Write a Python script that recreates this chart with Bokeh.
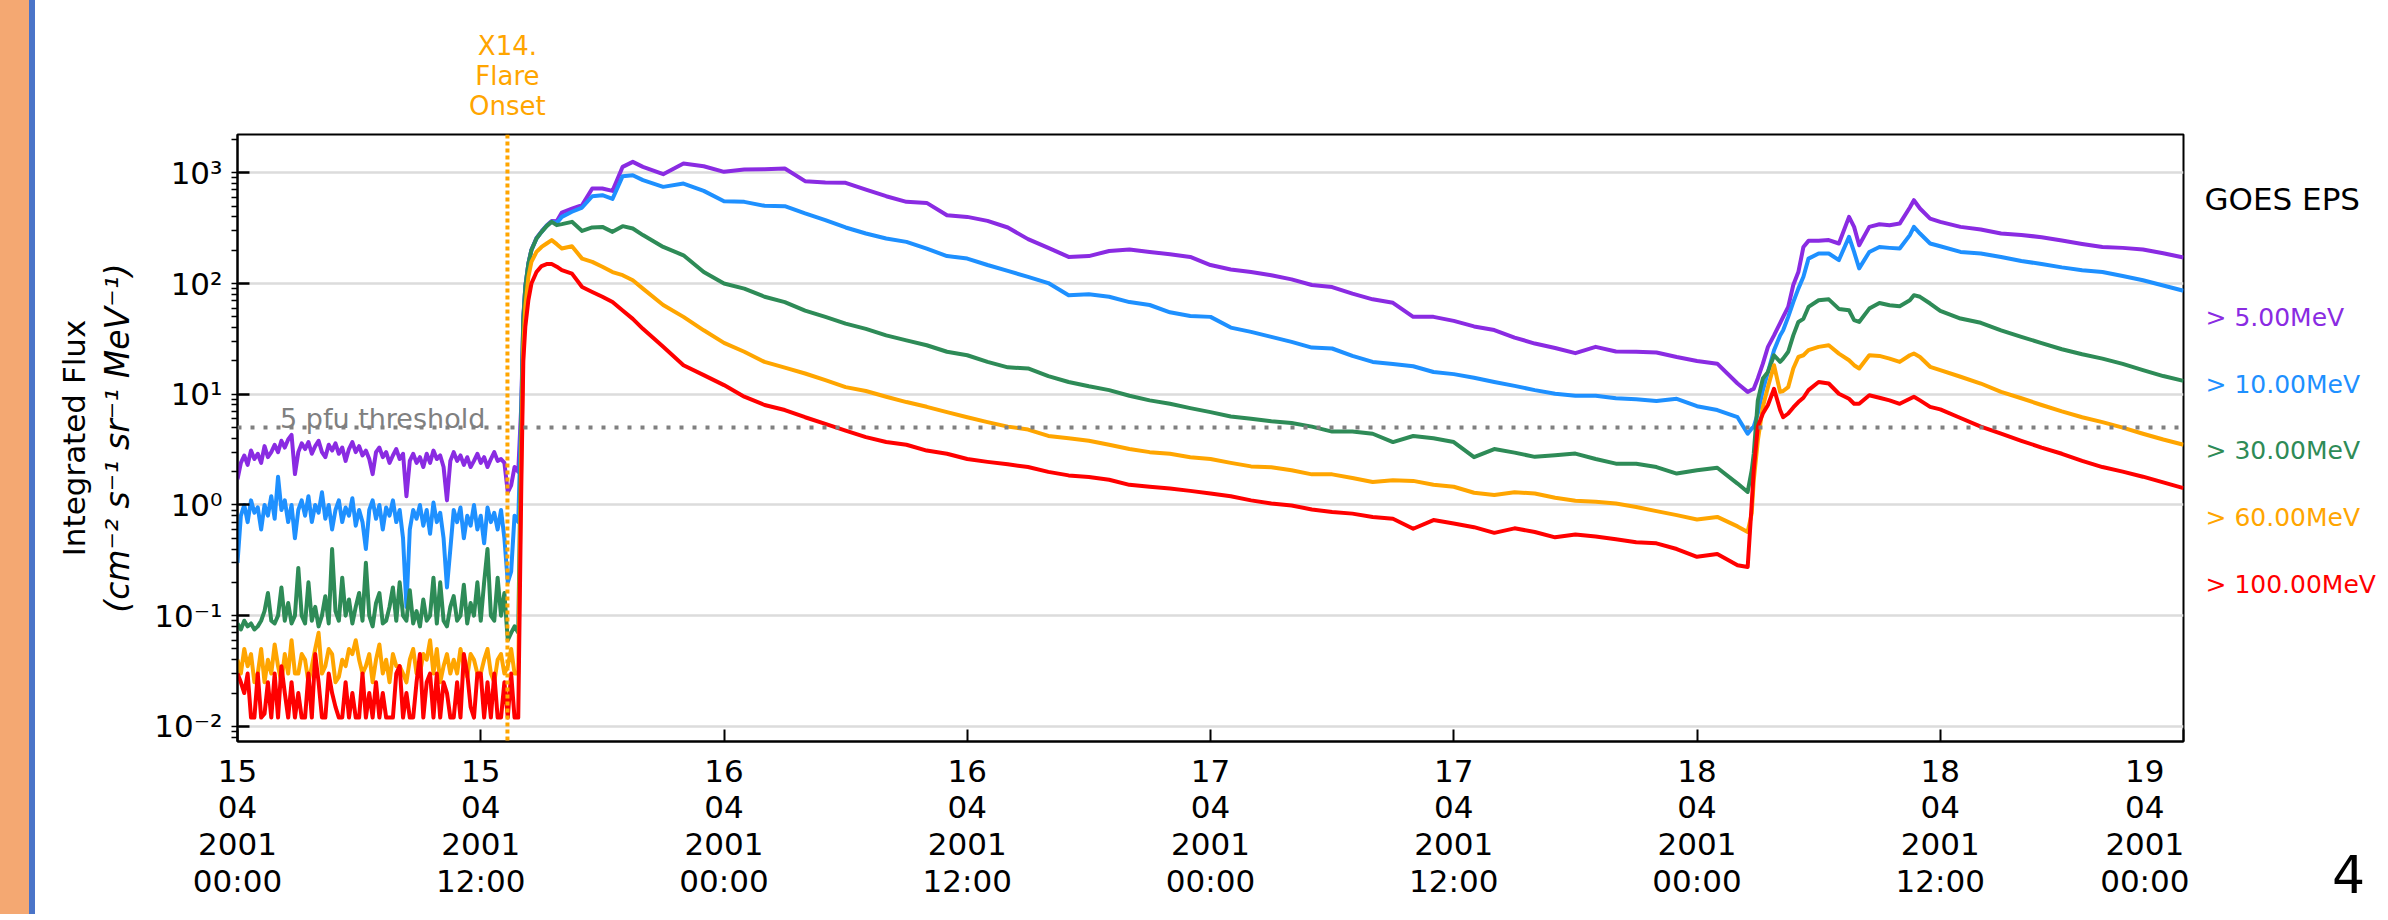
import numpy as np
import pandas as pd
from bokeh.plotting import figure
from bokeh.layouts import row
from bokeh.models import (Range1d, Span, Label, FixedTicker, DatetimeTickFormatter,
                          CustomJSTickFormatter, LogTicker, LogAxis, LinearAxis,
                          ColumnDataSource, Div)
from bokeh.core.properties import value
from bokeh.embed import file_html
from bokeh.resources import INLINE

FONT = "DejaVu Sans"

# ---------------- data ----------------
START = pd.Timestamp("2001-04-15 00:00")
END = pd.Timestamp("2001-04-19 00:00")
FLARE_ONSET = pd.Timestamp("2001-04-15 13:19")
FLARE_TEXT = "X14.\nFlare\nOnset"
THRESHOLD = 5.0
THRESHOLD_TEXT = "5 pfu threshold"
Y_TITLE = "Integrated Flux"
Y_UNITS = "(cm\u207b\u00b2 s\u207b\u00b9 sr\u207b\u00b9 MeV\u207b\u00b9)"
INSTRUMENT = "GOES EPS"
PAGE_NUMBER = "4"

# sample times, hours after 15 Apr 2001 00:00
HOURS_PRE = list(np.arange(0, 13.7, 1 / 6))          # 10-minute samples before onset
HOURS_EVENT = [13.85, 14.0, 14.1, 14.2, 14.35, 14.5, 14.75, 15.0, 15.25, 15.5,
               15.75, 16.0, 16.5, 17.0, 17.5, 18.0, 18.5, 19.0, 19.5]
HOURS_DECAY = list(range(20, 75))
HOURS_SECOND = [74.5, 74.7, 74.8, 75.0, 75.25, 75.5, 75.8, 76.1, 76.25, 76.5,
                76.75, 77.0, 77.25, 77.5, 78.0, 78.5, 79.0, 79.5, 79.75, 80.0,
                80.5, 81.0, 81.5, 82.0, 82.5, 82.7, 83.0, 83.5, 84.0]
HOURS_TAIL = list(range(85, 97))
HOURS = HOURS_PRE + HOURS_EVENT + HOURS_DECAY + HOURS_SECOND + HOURS_TAIL

P5 = ([1.7, 2.4, 2.8, 2.3, 3.1, 2.6,
       2.9, 2.4, 3.4, 2.7, 3.0, 3.5,
       3.0, 3.8, 3.3, 3.9, 4.3, 1.9,
       3.0, 3.6, 3.2, 3.7, 2.9, 3.4,
       3.8, 3.0, 2.7, 3.5, 3.1, 3.6,
       2.9, 3.3, 2.5, 3.2, 3.7, 3.0,
       3.4, 2.8, 3.1, 2.6, 1.9, 3.0,
       3.3, 2.7, 3.0, 2.4, 2.8, 3.2,
       2.6, 2.9, 1.2, 2.5, 2.9, 2.4,
       2.7, 2.2, 2.9, 2.4, 3.1, 2.6,
       2.8, 2.2, 1.1, 2.5, 3.0, 2.5,
       2.8, 2.3, 2.7, 2.2, 2.5, 2.9,
       2.4, 2.7, 2.2, 2.6, 3.0, 2.5,
       2.6, 2.4, 1.3, 1.5, 2.2]
      + [2.0, 8, 50, 95, 152, 202, 258, 296, 335, 368,
         365, 438, 476, 511, 721, 721, 687, 1133, 1257]
      + [1133, 973, 1214, 1148, 1021, 1072, 1080, 1094, 841, 818,
         813, 706, 615, 547, 535, 414, 400, 368, 321, 252,
         210, 174, 177, 197, 203, 193, 184, 174, 147, 134,
         127, 119, 109, 97, 93, 81, 72, 67, 50, 50,
         46, 41, 38, 32.5, 28.7, 26.2, 23.5, 26.8, 24.3, 24.2,
         23.8, 21.7, 20, 18.9, 12.5]
      + [10.5, 11, 11.2, 13.9, 18.9, 26.8, 34, 44, 50, 61.5,
         97, 127, 214, 243, 243, 247, 230, 400, 325, 222,
         325, 343, 336, 348, 486, 566, 476, 386, 361]
      + [325, 308, 283, 275, 262, 245, 228, 214, 210, 203, 188, 172])

P10 = ([0.3, 0.8, 1.0, 0.7, 1.1, 0.85,
        0.95, 0.6, 1.0, 0.8, 1.2, 0.75,
        1.8, 0.9, 1.1, 0.7, 1.0, 0.5,
        0.9, 1.1, 0.8, 1.2, 0.7, 1.0,
        0.85, 1.3, 0.75, 1.0, 0.6, 0.9,
        1.1, 0.7, 0.95, 0.8, 1.15, 0.65,
        0.9, 0.7, 0.4, 0.9, 1.1, 0.75,
        1.0, 0.6, 0.95, 0.8, 1.1, 0.7,
        0.9, 0.5, 0.12, 0.6, 0.9, 0.75,
        1.0, 0.65, 0.9, 0.55, 1.05, 0.7,
        0.85, 0.5, 0.18, 0.4, 0.9, 0.7,
        0.95, 0.5, 0.8, 0.65, 1.0, 0.6,
        0.8, 0.45, 0.95, 0.7, 0.85, 0.6,
        0.9, 0.5, 0.2, 0.25, 0.8]
       + [0.7, 7, 48, 94, 151, 200, 255, 293, 332, 362,
          352, 400, 445, 486, 615, 628, 582, 933, 952]
       + [859, 747, 801, 687, 554, 547, 504, 500, 430, 374,
          321, 283, 255, 238, 207, 177, 168, 147, 130, 115,
          101, 78.5, 80, 76, 68, 64, 55, 51, 50, 40,
          36.6, 33, 29.7, 26.4, 25.9, 22.2, 19.6, 18.8, 17.9, 15.9,
          15.2, 14.1, 12.9, 11.9, 10.9, 10.1, 9.7, 9.7, 9.2, 9.0,
          8.7, 9.1, 7.8, 7.2, 6.2]
       + [4.4, 4.9, 5.1, 6.7, 10.9, 15.9, 25, 34, 37.8, 50,
          68, 90, 115, 168, 187, 187, 163, 264, 193, 137,
          193, 214, 210, 207, 274, 325, 283, 230, 217]
       + [193, 187, 174, 160, 150, 140, 132, 127, 117, 107, 96, 86])

P30 = ([0.085, 0.075, 0.09, 0.08, 0.085, 0.075,
        0.08, 0.09, 0.11, 0.16, 0.09, 0.085,
        0.1, 0.18, 0.09, 0.13, 0.085, 0.1,
        0.27, 0.1, 0.085, 0.2, 0.09, 0.12,
        0.08, 0.1, 0.15, 0.085, 0.4, 0.11,
        0.09, 0.22, 0.1, 0.14, 0.085, 0.12,
        0.16, 0.09, 0.3, 0.1, 0.08, 0.13,
        0.16, 0.085, 0.09, 0.12, 0.18, 0.09,
        0.2, 0.1, 0.09, 0.17, 0.085, 0.11,
        0.08, 0.14, 0.09, 0.1, 0.22, 0.085,
        0.2, 0.09, 0.08, 0.12, 0.15, 0.09,
        0.1, 0.19, 0.085, 0.13, 0.1, 0.2,
        0.09, 0.2, 0.4, 0.1, 0.09, 0.22,
        0.1, 0.16, 0.06, 0.07, 0.08]
       + [0.07, 5.8, 47, 93, 151, 201, 255, 293, 330, 361,
          337, 344, 361, 299, 321, 325, 293, 330, 314]
       + [274, 214, 180, 127, 100, 90, 76, 68, 57, 50,
          43.5, 39, 34, 30.7, 27.7, 24.2, 22.5, 19.6, 17.5, 17.1,
          14.6, 12.9, 11.8, 10.9, 9.7, 8.8, 8.2, 7.5, 6.9, 6.3,
          6.0, 5.7, 5.5, 5.1, 4.6, 4.6, 4.4, 3.7, 4.2, 4.0,
          3.7, 2.7, 3.2, 2.97, 2.72, 2.81, 2.91, 2.6, 2.36, 2.36,
          2.2, 1.92, 2.06, 2.17, 1.56]
       + [1.31, 2.06, 2.9, 8.8, 13.9, 15.9, 22.5, 19.6, 21, 24.2,
          34, 45, 48, 61.5, 70.6, 72, 59, 57.4, 46.7, 45,
          59.4, 66.8, 63.7, 62.4, 70.6, 78.5, 75.9, 66, 56.6]
       + [48.3, 44.2, 37.8, 33, 29, 25.5, 23, 21, 18.8, 16.5, 14.6, 13.2])

P60 = ([0.04, 0.03, 0.05, 0.035, 0.045, 0.025,
        0.03, 0.05, 0.025, 0.04, 0.03, 0.055,
        0.035, 0.025, 0.045, 0.03, 0.06, 0.03,
        0.03, 0.045, 0.04, 0.025, 0.035, 0.05,
        0.07, 0.03, 0.035, 0.05, 0.045, 0.025,
        0.028, 0.04, 0.035, 0.05, 0.045, 0.06,
        0.04, 0.03, 0.035, 0.045, 0.025, 0.04,
        0.055, 0.03, 0.04, 0.025, 0.045, 0.035,
        0.035, 0.03, 0.025, 0.04, 0.05, 0.03,
        0.03, 0.045, 0.04, 0.06, 0.03, 0.05,
        0.025, 0.035, 0.045, 0.03, 0.04, 0.03,
        0.05, 0.035, 0.028, 0.045, 0.04, 0.03,
        0.03, 0.04, 0.05, 0.03, 0.025, 0.04,
        0.045, 0.03, 0.035, 0.05, 0.03]
       + [0.03, 2.9, 27, 62, 115, 157, 193, 214, 230, 247,
          227, 207, 217, 168, 157, 142, 127, 119, 107]
       + [90, 64, 50, 37.8, 29.1, 24.2, 19.6, 17.4, 15.4, 13.4,
          11.6, 10.7, 9.5, 8.5, 7.7, 6.9, 6.2, 5.6, 5.1, 4.8,
          4.2, 4.0, 3.8, 3.5, 3.2, 3.0, 2.9, 2.7, 2.6, 2.4,
          2.23, 2.19, 2.06, 1.89, 1.89, 1.75, 1.61, 1.67, 1.65, 1.52,
          1.46, 1.29, 1.23, 1.3, 1.27, 1.16, 1.09, 1.07, 1.03, 0.96,
          0.88, 0.81, 0.74, 0.78, 0.64]
       + [0.57, 0.84, 1.67, 3.8, 7.7, 11.6, 18.3, 10.5, 10.7, 11.6,
          17.1, 21.7, 22.5, 25, 26.8, 27.7, 23.3, 20.3, 18.3, 17.1,
          22.5, 22.2, 21, 19.6, 22.5, 23.3, 21.7, 17.7, 16.5]
       + [14.4, 12.5, 10.5, 9.2, 8.0, 7.0, 6.2, 5.6, 5.0, 4.4, 3.9, 3.5])

P100 = ([0.03, 0.025, 0.02, 0.03, 0.012, 0.012,
         0.03, 0.012, 0.013, 0.025, 0.012, 0.03,
         0.012, 0.035, 0.02, 0.012, 0.025, 0.012,
         0.02, 0.012, 0.012, 0.03, 0.012, 0.045,
         0.025, 0.012, 0.012, 0.03, 0.02, 0.015,
         0.012, 0.012, 0.025, 0.012, 0.02, 0.012,
         0.012, 0.03, 0.012, 0.02, 0.012, 0.025,
         0.012, 0.02, 0.012, 0.012, 0.012, 0.03,
         0.035, 0.012, 0.02, 0.012, 0.012, 0.025,
         0.045, 0.012, 0.025, 0.03, 0.012, 0.03,
         0.012, 0.025, 0.02, 0.012, 0.012, 0.025,
         0.012, 0.045, 0.03, 0.015, 0.012, 0.03,
         0.03, 0.012, 0.025, 0.012, 0.03, 0.012,
         0.012, 0.025, 0.012, 0.03, 0.012]
        + [0.012, 1.46, 20, 41, 71, 100, 127, 144, 150, 150,
           142, 132, 123, 93, 84, 76, 68, 57, 48]
        + [39, 26.8, 18.3, 14.9, 12.1, 9.5, 8.0, 7.2, 6.2, 5.4,
           4.7, 4.1, 3.7, 3.5, 3.1, 2.9, 2.6, 2.45, 2.33, 2.2,
           1.99, 1.85, 1.79, 1.69, 1.52, 1.46, 1.41, 1.34, 1.27, 1.2,
           1.10, 1.03, 0.99, 0.91, 0.865, 0.835, 0.78, 0.75, 0.61, 0.73,
           0.68, 0.63, 0.56, 0.615, 0.57, 0.51, 0.54, 0.52, 0.49, 0.46,
           0.45, 0.40, 0.34, 0.36, 0.285]
        + [0.275, 1.03, 2.06, 5.1, 6.7, 8.0, 11.2, 7.2, 6.2, 6.7,
           7.6, 8.5, 9.3, 10.9, 12.9, 12.5, 10.1, 9.1, 8.2, 8.2,
           9.8, 9.3, 8.8, 8.2, 9.1, 9.5, 8.8, 7.7, 7.3]
        + [6.1, 5.1, 4.4, 3.8, 3.3, 2.9, 2.5, 2.2, 2.0, 1.8, 1.6, 1.42])

SERIES_NAMES = ["> 5.00MeV", "> 10.00MeV", "> 30.00MeV", "> 60.00MeV", "> 100.00MeV"]
SERIES_COLORS = ["#8A2BE2", "#1E90FF", "#2E8B57", "#FFA500", "#FF0000"]
SERIES_VALUES = [P5, P10, P30, P60, P100]

for v in SERIES_VALUES:
    assert len(v) == len(HOURS), (len(v), len(HOURS))

TIMES = (START + pd.to_timedelta(HOURS, unit="h")).to_numpy()
TICK_TIMES = pd.date_range(START, END, freq="12h")
FLARE_MS = FLARE_ONSET.value / 1e6

# ---------------- layout geometry (page pixels) ----------------
H = 914
FRAME_TOP, FRAME_BOTTOM = 134, 741

# ---------------- main figure ----------------
p = figure(width=2154, height=H, x_axis_type="datetime", y_axis_type="log",
           x_range=Range1d(START.to_pydatetime(), END.to_pydatetime()),
           y_range=Range1d(0.0073, 2220),
           output_backend="svg", toolbar_location=None,
           min_border_left=202, min_border_right=6,
           min_border_top=FRAME_TOP, min_border_bottom=H - FRAME_BOTTOM)
p.background_fill_color = "white"
p.border_fill_color = "white"
p.outline_line_color = "black"
p.outline_line_width = 2
p.outline_line_alpha = 1.0

p.xgrid.visible = False
p.ygrid.grid_line_color = "#dcdcdc"
p.ygrid.grid_line_width = 2.5

# x axis
xa = p.xaxis[0]
xa.ticker = FixedTicker(ticks=[t.value / 1e6 for t in TICK_TIMES], minor_ticks=[])
fmt = "%d\n%m\n%Y\n%H:%M"
xa.formatter = DatetimeTickFormatter(
    microseconds=fmt, milliseconds=fmt, seconds=fmt, minsec=fmt, minutes=fmt,
    hourmin=fmt, hours=fmt, days=fmt, months=fmt, years=fmt, strip_leading_zeros=False)
xa.major_label_text_font = FONT
xa.major_label_text_font_size = "31px"
xa.major_label_text_color = "black"
xa.major_label_text_line_height = 1.025
xa.major_label_standoff = 11
xa.major_tick_in = 12
xa.major_tick_out = 0
xa.major_tick_line_width = 2
xa.axis_line_width = 2
xa.axis_line_color = "black"

# y axis
ya = p.yaxis[0]
ya.ticker = LogTicker(num_minor_ticks=10)
ya.formatter = CustomJSTickFormatter(code="""
const sup = {"-": "\\u207b", "0": "\\u2070", "1": "\\u00b9", "2": "\\u00b2", "3": "\\u00b3",
             "4": "\\u2074", "5": "\\u2075", "6": "\\u2076", "7": "\\u2077", "8": "\\u2078", "9": "\\u2079"};
const e = Math.round(Math.log10(tick));
return "10" + String(e).split("").map((c) => sup[c]).join("");
""")
ya.major_label_text_font = FONT
ya.major_label_text_font_size = "31px"
ya.major_label_text_color = "black"
ya.major_label_standoff = 9
ya.major_tick_in = 12
ya.major_tick_out = 0
ya.major_tick_line_width = 2.5
ya.minor_tick_in = 0
ya.minor_tick_out = 6
ya.minor_tick_line_width = 1.5
ya.axis_line_width = 2
ya.axis_line_color = "black"
ya.axis_label = Y_UNITS
ya.axis_label_text_font = FONT
ya.axis_label_text_font_style = "italic"
ya.axis_label_text_font_size = "33px"
ya.axis_label_text_color = "black"
ya.axis_label_standoff = 14

# outer left axis carrying only the first line of the y title
ya2 = LogAxis(ticker=FixedTicker(ticks=[], minor_ticks=[]), axis_label=Y_TITLE,
              axis_line_color=None, major_tick_line_color=None, minor_tick_line_color=None,
              axis_label_text_font=FONT, axis_label_text_font_style="normal",
              axis_label_text_font_size="31px", axis_label_text_color="black",
              axis_label_standoff=4)
p.add_layout(ya2, "left")

# flare-onset caption as a single tick label above the frame
xa_top = LinearAxis(ticker=FixedTicker(ticks=[FLARE_MS], minor_ticks=[]),
                    formatter=CustomJSTickFormatter(args=dict(txt=FLARE_TEXT), code="return txt;"),
                    axis_line_color=None, major_tick_line_color=None, minor_tick_line_color=None,
                    major_label_text_font=FONT, major_label_text_font_size="26px",
                    major_label_text_color="#FFA500", major_label_text_line_height=1.0,
                    major_label_standoff=8)
p.add_layout(xa_top, "above")

# series
for name, color, vals in zip(SERIES_NAMES, SERIES_COLORS, SERIES_VALUES):
    p.line(TIMES, vals, line_color=color, line_width=4, line_join="round")

# threshold and flare onset lines
p.add_layout(Span(location=THRESHOLD, dimension="width", line_color="#808080",
                  line_width=4, line_dash="4 9"))
p.add_layout(Span(location=FLARE_MS, dimension="height", line_color="#FFA500",
                  line_width=4, line_dash="4 3"))
p.add_layout(Label(x=(START + pd.Timedelta(hours=2.1)).value / 1e6, y=6.1,
                   text=THRESHOLD_TEXT, text_font=FONT, text_font_size="27px",
                   text_color="#808080", text_align="left", text_baseline="alphabetic"))

# ---------------- right side: colour-coded channel list ----------------
# (plots in a row share the frame rows, so this panel's y range is the page band of the frame)
LEG_W = 197
leg = figure(width=LEG_W, height=H, x_range=Range1d(0, LEG_W),
             y_range=Range1d(FRAME_BOTTOM, FRAME_TOP),
             output_backend="svg", toolbar_location=None,
             min_border_left=0, min_border_right=0,
             min_border_top=FRAME_TOP, min_border_bottom=H - FRAME_BOTTOM,
             x_axis_location=None, y_axis_location=None)
leg.grid.visible = False
leg.outline_line_color = None
leg.background_fill_color = "white"
leg.border_fill_color = "white"

leg.text(x=[15], y=[198], text=[INSTRUMENT], text_color="black",
         text_font=value(FONT), text_font_size=value("31px"), text_baseline="alphabetic")
leg_src = ColumnDataSource(dict(x=[16] * 5, y=[317, 384, 450, 517, 584],
                                text=SERIES_NAMES, color=SERIES_COLORS))
leg.text(x="x", y="y", text="text", text_color="color", source=leg_src,
         text_font=value(FONT), text_font_size=value("25px"), text_baseline="alphabetic")

# slide page number, carried by a bare axis below this panel
page_axis = LinearAxis(ticker=FixedTicker(ticks=[159], minor_ticks=[]),
                       formatter=CustomJSTickFormatter(args=dict(txt=PAGE_NUMBER), code="return txt;"),
                       axis_line_color=None, major_tick_line_color=None, minor_tick_line_color=None,
                       major_label_text_font=FONT, major_label_text_font_size="52px",
                       major_label_text_color="black", major_label_text_line_height=1.0,
                       major_label_standoff=107)
leg.add_layout(page_axis, "below")

# ---------------- left edge: slide decoration strips ----------------
strip_orange = Div(text="", width=29, height=H, margin=0,
                   styles={"background-color": "#F4A872", "padding": "0px", "margin": "0px"})
strip_blue = Div(text="", width=6, height=H, margin=0,
                 styles={"background-color": "#4A74C8", "padding": "0px", "margin": "0px"})

layout = row(strip_orange, strip_blue, p, leg, spacing=0)

open("out.html", "w").write(file_html(layout, INLINE))
